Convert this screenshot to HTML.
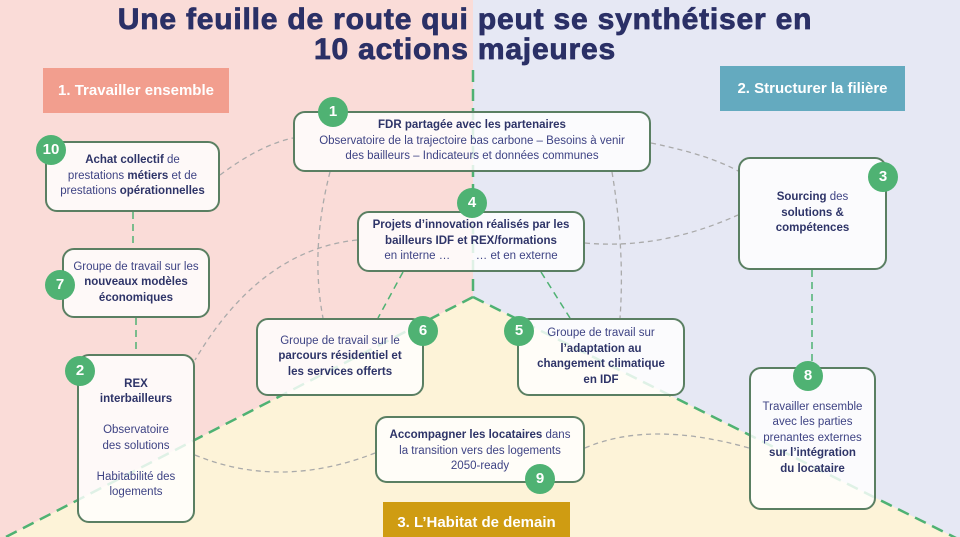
<!DOCTYPE html>
<html><head><meta charset="utf-8"><style>
body{margin:0}
#c{position:relative;width:960px;height:537px;overflow:hidden;font-family:"Liberation Sans",Arial,sans-serif;color:#3b3f7a}
svg{position:absolute;left:0;top:0}
.t{position:absolute;left:0;width:930px;text-align:center;font-weight:bold;font-size:30px;letter-spacing:0.8px;color:#2b3066;line-height:30px;top:5px;-webkit-text-stroke:0.8px #2b3066}
.b{position:absolute;box-sizing:border-box;border:2px solid #5a7f62;border-radius:12px;background:rgba(255,255,255,.82);font-size:11.5px;line-height:15.5px;text-align:center;display:flex;flex-direction:column;justify-content:center;color:#3e4384}
.b b{color:#2e3468}
.n{position:absolute;width:30px;height:30px;border-radius:50%;background:#4fb273;color:#fff;font-weight:bold;font-size:15px;line-height:30px;text-align:center;margin:-15px 0 0 -15px}
.l{position:absolute;color:#fff;font-size:15px;font-weight:bold;text-align:center;display:flex;align-items:center;justify-content:center}
</style></head><body><div id="c">
<svg width="960" height="537">
<rect x="0" y="0" width="473" height="537" fill="#fadcd8"/>
<rect x="473" y="0" width="487" height="537" fill="#e6e8f4"/>
<polygon points="473,297 960,540 0,540" fill="#fdf3d8"/>
<g stroke="#4fb273" stroke-width="2.5" stroke-dasharray="12,7" fill="none">
<path d="M473,70 V297"/><path d="M473,297 L0,540"/><path d="M473,297 L960,540"/>
</g>
<g stroke="#4fb273" stroke-width="1.5" stroke-dasharray="7,5" fill="none">
<path d="M133,212 V248"/><path d="M136,318 V354"/><path d="M812,270 V362"/>
<path d="M403,272 L378,318"/><path d="M541,272 L570,318"/>
</g>
<g stroke="#aaa" stroke-width="1.3" stroke-dasharray="5,4" fill="none">
<path d="M220,175 Q260,145 293,138"/>
<path d="M651,143 Q710,155 740,172"/>
<path d="M585,243 Q660,250 738,215"/>
<path d="M330,172 Q310,250 323,318"/>
<path d="M612,172 Q625,250 620,318"/>
<path d="M357,240 Q260,250 195,360"/>
<path d="M195,455 Q280,490 375,453"/>
<path d="M585,448 Q650,420 749,448"/>
</g>
</svg>
<div class="t">Une feuille de route qui peut se synthétiser en<br>10 actions majeures</div>
<div class="l" style="left:43px;top:68px;width:186px;height:45px;background:#f29e8e">1. Travailler ensemble</div>
<div class="l" style="left:720px;top:66px;width:185px;height:45px;background:#64aabf">2. Structurer la filière</div>
<div class="l" style="left:383px;top:502px;width:187px;height:40px;background:#cf9c12">3. L’Habitat de demain</div>

<div class="b" style="left:293px;top:111px;width:358px;height:61px"><div><b>FDR partagée avec les partenaires</b><br>Observatoire de la trajectoire bas carbone – Besoins à venir<br>des bailleurs – Indicateurs et données communes</div></div>
<div class="b" style="left:45px;top:141px;width:175px;height:71px"><div><b>Achat collectif</b> de<br>prestations <b>métiers</b> et de<br>prestations <b>opérationnelles</b></div></div>
<div class="b" style="left:62px;top:248px;width:148px;height:70px"><div>Groupe de travail sur les<br><b>nouveaux modèles<br>économiques</b></div></div>
<div class="b" style="left:77px;top:354px;width:118px;height:169px"><div><b>REX<br>interbailleurs</b><br><br>Observatoire<br>des solutions<br><br>Habitabilité des<br>logements</div></div>
<div class="b" style="left:357px;top:211px;width:228px;height:61px"><div><b>Projets d’innovation réalisés par les<br>bailleurs IDF et REX/formations</b><br>en interne …&nbsp;&nbsp;&nbsp;&nbsp;&nbsp;&nbsp;&nbsp;&nbsp;… et en externe</div></div>
<div class="b" style="left:256px;top:318px;width:168px;height:78px"><div>Groupe de travail sur le<br><b>parcours résidentiel et<br>les services offerts</b></div></div>
<div class="b" style="left:517px;top:318px;width:168px;height:78px"><div>Groupe de travail sur<br><b>l’adaptation au<br>changement climatique<br>en IDF</b></div></div>
<div class="b" style="left:738px;top:157px;width:149px;height:113px"><div><b>Sourcing</b> des<br><b>solutions &amp;<br>compétences</b></div></div>
<div class="b" style="left:749px;top:367px;width:127px;height:143px"><div>Travailler ensemble<br>avec les parties<br>prenantes externes<br><b>sur l’intégration<br>du locataire</b></div></div>
<div class="b" style="left:375px;top:416px;width:210px;height:67px;justify-content:flex-start;padding-top:10px"><div><b>Accompagner les locataires</b> dans<br>la transition vers des logements<br>2050-ready</div></div>

<div class="n" style="left:333px;top:112px">1</div>
<div class="n" style="left:51px;top:150px">10</div>
<div class="n" style="left:60px;top:285px">7</div>
<div class="n" style="left:80px;top:371px">2</div>
<div class="n" style="left:472px;top:203px">4</div>
<div class="n" style="left:423px;top:331px">6</div>
<div class="n" style="left:519px;top:331px">5</div>
<div class="n" style="left:883px;top:177px">3</div>
<div class="n" style="left:808px;top:376px">8</div>
<div class="n" style="left:540px;top:479px">9</div>
</div></body></html>
